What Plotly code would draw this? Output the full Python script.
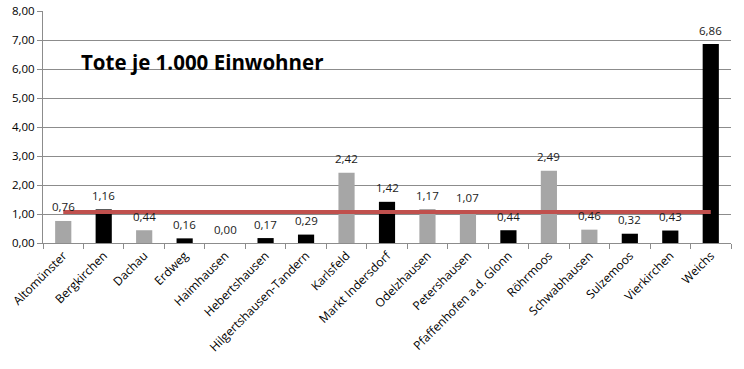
import plotly.graph_objects as go

categories = ["Altomünster", "Bergkirchen", "Dachau", "Erdweg", "Haimhausen", "Hebertshausen",
              "Hilgertshausen-Tandern", "Karlsfeld", "Markt Indersdorf", "Odelzhausen",
              "Petershausen", "Pfaffenhofen a.d. Glonn", "Röhrmoos", "Schwabhausen",
              "Sulzemoos", "Vierkirchen", "Weichs"]
values = [0.76, 1.16, 0.44, 0.16, 0.00, 0.17, 0.29, 2.42, 1.42, 1.17, 1.07, 0.44, 2.49, 0.46, 0.32, 0.43, 6.86]
bar_colors = ["#A6A6A6", "#000000", "#A6A6A6", "#000000", "#000000", "#000000", "#000000", "#A6A6A6",
              "#000000", "#A6A6A6", "#A6A6A6", "#000000", "#A6A6A6", "#A6A6A6", "#000000", "#000000", "#000000"]
average = 1.07
y_ticks = [0, 1, 2, 3, 4, 5, 6, 7, 8]

font_family = "Open Sans, DejaVu Sans, sans-serif"

fig = go.Figure()
fig.add_trace(go.Bar(x=categories, y=values, marker=dict(color=bar_colors, line=dict(width=0)),
                     showlegend=False, hoverinfo="x+y"))
fig.add_trace(go.Scatter(x=[categories[0], categories[-1]], y=[average, average], mode="lines",
                         line=dict(color="#C0504D", width=4), showlegend=False))

for c, v in zip(categories, values):
    fig.add_annotation(x=c, y=v, text=f"{v:.2f}".replace(".", ","), showarrow=False,
                       yshift=14, font=dict(size=11.5, color="#1a1a1a", family=font_family))

fig.add_annotation(x=0.052, xref="paper", y=6.25, yref="y", xanchor="left", yanchor="middle",
                   text="<b>Tote je 1.000 Einwohner</b>", showarrow=False,
                   font=dict(size=20.5, color="#000000", family=font_family))

fig.update_layout(
    width=744, height=369,
    margin=dict(l=43, r=13, t=11, b=126),
    paper_bgcolor="white", plot_bgcolor="white",
    bargap=0.6,
    separators=",.",
    font=dict(family=font_family, size=11, color="#000000"),
)
fig.update_yaxes(range=[0, 8], tickvals=y_ticks, tickformat=".2f", showgrid=True, gridcolor="#8C8C8C",
                 gridwidth=1, showline=True, linecolor="#8C8C8C", ticks="outside", ticklen=5,
                 tickcolor="#8C8C8C", zeroline=False, tickfont=dict(size=11.5), automargin=False)
fig.update_xaxes(type="category", tickangle=-45, showline=True, linecolor="#8C8C8C", ticks="outside",
                 tickson="boundaries", ticklen=5, tickcolor="#8C8C8C", tickfont=dict(size=12),
                 range=[-0.5, len(categories) - 0.5], automargin=False)

# remove the browser's default 8px body margin so the figure fills the window exactly
fig.write_html("out.html", config={"displayModeBar": False},
               post_script="document.body.style.margin='0';")
